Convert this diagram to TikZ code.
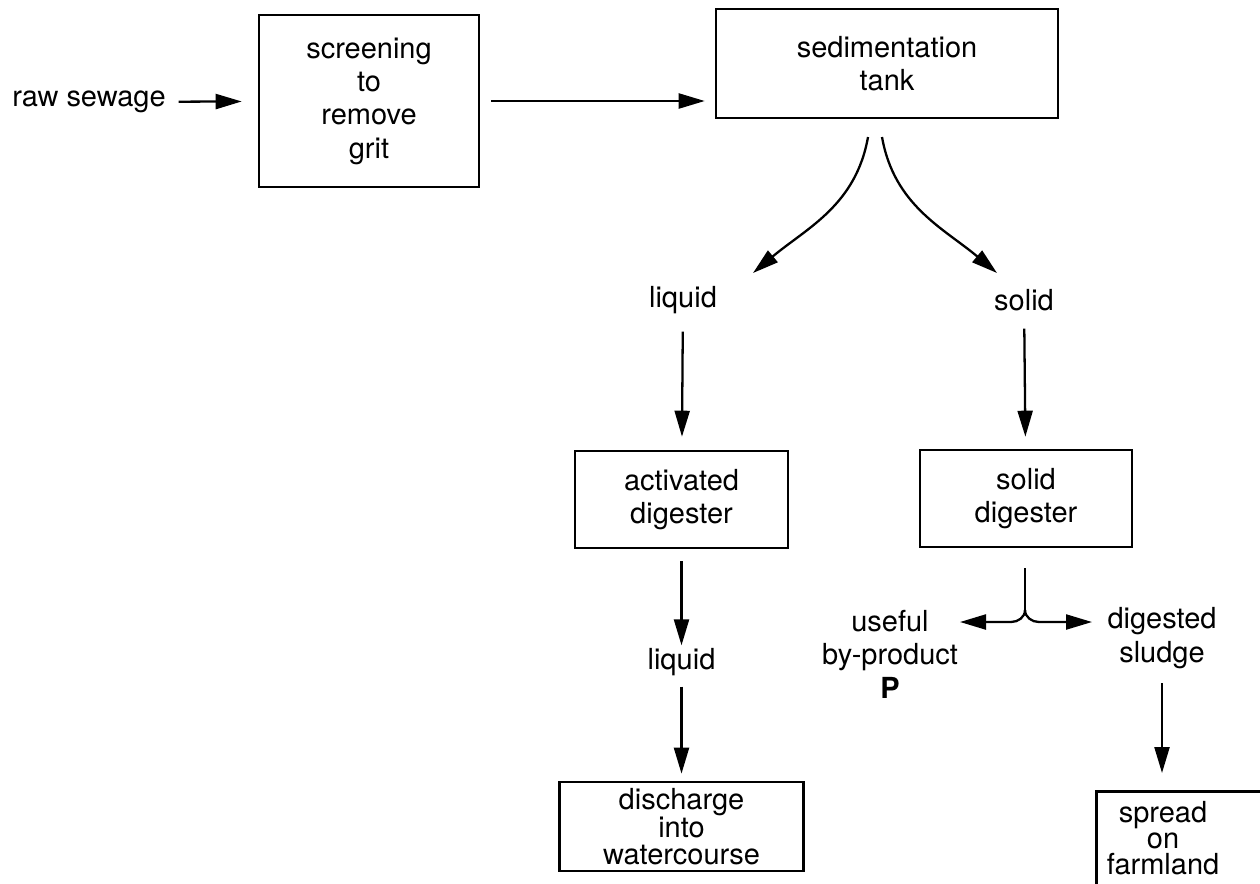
\documentclass[tikz,border=0pt]{standalone}
\usepackage{fontspec}
\setmainfont{TeX Gyre Heros}
\usetikzlibrary{arrows.meta,positioning}

\begin{document}
\begin{tikzpicture}[x=0.02cm,y=-0.02cm,line width=1.3pt,on grid,
  >={Triangle[length=0.52cm,width=0.3cm]},
  every node/.style={font=\fontsize{16.5}{19}\selectfont,align=center},
  stage/.style={draw,line width=1.5pt,inner sep=1pt},
  lbl/.style={inner sep=1pt},
  tight/.style={font=\fontsize{16.5}{15}\selectfont}]
  \clip (0,0) rectangle (1260,883);
  \node[lbl] (raw) at (89,102) {raw sewage};
  \node[stage,minimum width=4.4cm,minimum height=3.44cm] (screen) at (369,101) {screening\\to\\remove\\grit};
  \node[stage,minimum width=6.84cm,minimum height=2.18cm] (sed) at (887,63.5) {sedimentation\\tank};
  \node[lbl] (liq_1) at (683,300) {liquid};
  \node[lbl] (sol) at (1024,300) {solid};
  \node[stage,minimum width=4.26cm,minimum height=1.94cm] (act) at (681.5,499.5) {activated\\digester};
  \node[stage,minimum width=4.24cm,minimum height=1.94cm] (sd) at (1026,498.5) {solid\\digester};
  \node[lbl] (liq_2) [below=3.25cm of act] {liquid};
  \node[stage,tight,minimum width=4.88cm,minimum height=1.78cm] (dis) [below=3.29cm of liq_2] {discharge\\into\\watercourse};
  \node[lbl] (use) at (890,654) {useful\\by-product\\\textbf{P}};
  \node[lbl] (dig) at (1162,638) {digested\\sludge};
  \node[stage,anchor=north west,minimum width=4cm,minimum height=3cm] (farm) at (1095,790) {};
  \node[lbl,tight] (farm_txt) at (1163,838) {spread\\on\\farmland};
  % split points
  \coordinate (sp_l) at (868,137);
  \coordinate (sp_r) at (882,137);
  \coordinate (fk_top) at (1025,568);
  \coordinate (fk) at (1025,610);
  \coordinate (fk_l) at (960,622);
  \coordinate (fk_r) at (1092,622);

  \path[->]
  (raw) edge [shorten <=0.2cm,shorten >=0.32cm] (screen)
  (screen.east) edge [shorten <=0.22cm,shorten >=0.2cm] (screen.east -| sed.west)
  (sp_l) edge [out=-100,in=40] ([shift={(70,-27)}]liq_1.center)
  (sp_r) edge [out=-80,in=140] ([shift={(-27,-27)}]sol.center)
  (liq_1) edge [shorten <=0.3cm,shorten >=0.26cm] (act)
  (sol) edge [shorten <=0.3cm,shorten >=0.24cm] (sd)
  (act) edge [shorten <=0.24cm] (liq_2)
  (liq_2) edge [shorten <=0.16cm,shorten >=0.14cm] (dis)
  (dig) edge [shorten <=0.24cm,shorten >=0.34cm] (dig |- farm.north);
  \draw (fk_top) -- (fk);
  \draw[->] (fk) to[out=-90,in=0] ++(-14,12) -- (fk_l);
  \draw[->] (fk) to[out=-90,in=180] ++(14,12) -- (fk_r);
\end{tikzpicture}
\end{document}
